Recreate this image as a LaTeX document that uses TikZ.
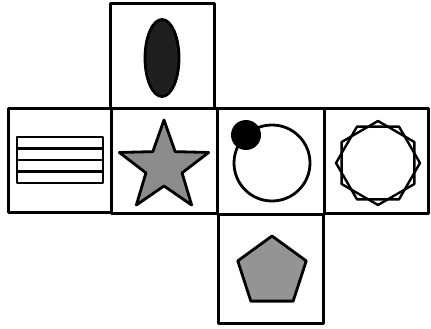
\documentclass[tikz,border=0pt]{standalone}
\usetikzlibrary{shapes.geometric}
\begin{document}
\begin{tikzpicture}[x=1pt,y=-1pt,line join=round,
  cell/.style={draw=black,line width=3pt},
  shp/.style={draw=black,line width=2.8pt}]
\useasboundingbox (0,0) rectangle (431,329);
% cells
\draw[cell] (110,4) rectangle (214,108);
\draw[cell] (8,108) rectangle (111,212);
\draw[cell] (111,108) rectangle (217,213);
\draw[cell] (217,108) rectangle (324,214);
\draw[cell] (324,108) rectangle (428,213);
\draw[cell] (218,214) rectangle (323,323);
% ellipse
\node[shp,fill=black!88,ellipse,minimum width=34pt,minimum height=77pt,inner sep=0pt] (ell) at (162,58) {};
% stripes
\draw[shp] (17,137) rectangle (103,183);
\draw[line width=2.6pt] (17,148.5) -- (103,148.5) (17,160) -- (103,160) (17,171.5) -- (103,171.5);
% star
\draw[shp,fill=black!45,shift={(164,167)}]
  (-90:47) -- (-126:19) -- (-162:47) -- (-198:19) -- (-234:47) -- (-270:19)
  -- (-306:47) -- (-342:19) -- (-18:47) -- (-54:19) -- cycle;
% circle with dot
\draw[shp] (272,163) circle (38);
\fill[black] (246,135) circle (15);
% two hexagons
\draw[line width=2.4pt,shift={(378,163)}]
  (90:42) -- (150:42) -- (210:42) -- (270:42) -- (330:42) -- (30:42) -- cycle;
\draw[line width=2.4pt,shift={(378,163)}]
  (0:42) -- (60:42) -- (120:42) -- (180:42) -- (240:42) -- (300:42) -- cycle;
% pentagon
\draw[shp,fill=black!42,shift={(272,272)}]
  (-90:36) -- (-162:36) -- (-234:36) -- (-306:36) -- (-18:36) -- cycle;
\end{tikzpicture}
\end{document}
